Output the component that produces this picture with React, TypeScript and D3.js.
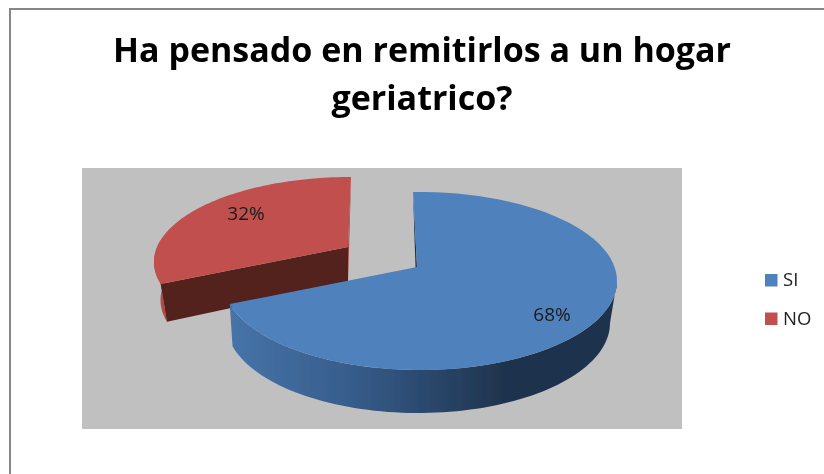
import React from "react";
import * as d3 from "d3";

const categories = ["SI", "NO"];
const values = [68, 32];
const labels = ["68%", "32%"];
const colors = ["#4f81bd", "#c0504d"];
const titleLines = ["Ha pensado en remitirlos a un hogar", "geriatrico?"];

const W = 824, H = 474;
const D2R = Math.PI / 180;

// 3D perspective: pie angle (deg) -> drawn ellipse angle (deg)
const warp = d3.scaleLinear().domain([0, 244.8, 360]).range([-2, 255, 360]);

type Ell = { cx: number; cy: number; rx: number; ry: number };
type Geo = { top: Ell; bottom: Ell; apex: [number, number]; apexB: [number, number] };

const geos: Geo[] = [
  { top: { cx: 420, cy: 281, rx: 197, ry: 89 }, bottom: { cx: 418, cy: 323, rx: 192, ry: 90 }, apex: [417, 267], apexB: [417, 309] },
  { top: { cx: 351, cy: 262, rx: 197, ry: 85 }, bottom: { cx: 350, cy: 300, rx: 189.5, ry: 84 }, apex: [348, 247], apexB: [348, 283] },
];
const blueCutSkew = 0.9;

const pt = (e: Ell, deg: number): [number, number] => [
  e.cx + e.rx * Math.sin(deg * D2R),
  e.cy - e.ry * Math.cos(deg * D2R),
];
const arc = (e: Ell, a: number, b: number, n = 80): [number, number][] =>
  d3.range(n + 1).map((i) => pt(e, a + ((b - a) * i) / n));
const line = d3.line<[number, number]>();
const closed = (p: [number, number][]) => (line(p) || "") + "Z";

export default function App() {
  const slices = d3.pie<number>().sort(null).startAngle(0).endAngle(2 * Math.PI)(values);
  const angs = slices.map((s) => [warp((s.startAngle * 180) / Math.PI), warp((s.endAngle * 180) / Math.PI)]);

  const faces = (i: number, skew = 0) => {
    const g = geos[i];
    const [a, b] = angs[i];
    return {
      top: closed([g.apex, ...arc(g.top, a, b)]),
      wall: closed([...arc(g.top, Math.max(a, 90), Math.min(b, 270)), ...arc(g.bottom, Math.min(b, 270), Math.max(a, 90))]),
      cutStart: closed([g.apex, pt(g.top, a), pt(g.bottom, a + skew), g.apexB]),
      cutEnd: closed([g.apex, pt(g.top, b), pt(g.bottom, b), g.apexB]),
    };
  };
  const blue = faces(0, blueCutSkew);
  const red = faces(1);

  const redWallPath = closed([
    ...arc(geos[1].top, angs[1][0], 285, 30),
    ...arc(geos[1].bottom, 285, angs[1][0], 30),
  ]);

  return (
    <svg width={W} height={H} style={{ position: "absolute", left: 0, top: 0 }} xmlns="http://www.w3.org/2000/svg">
      <defs>
        <linearGradient id="blueWall" gradientUnits="userSpaceOnUse" x1="231" x2="505" y1="0" y2="0">
          <stop offset="0" stopColor="#4674a9" />
          <stop offset="0.45" stopColor="#365c8a" />
          <stop offset="1" stopColor="#1f334d" />
        </linearGradient>
        <filter id="soft" x="-5%" y="-5%" width="110%" height="110%">
          <feGaussianBlur stdDeviation="0.55" />
        </filter>
      </defs>
      <rect width={W} height={H} fill="#ffffff" />
      <g filter="url(#soft)">
        <path d={`M10,${H + 10} V9 H${W + 10}`} fill="none" stroke="#868686" strokeWidth={2} />
        {titleLines.map((t, i) => (
          <text key={t} x={422} y={62 + i * 48} textAnchor="middle" fontFamily="'Open Sans', sans-serif"
            fontWeight={700} fontSize={34} fill="#000">{t}</text>
        ))}
        <rect x={82} y={168} width={600} height={261} fill="#c0c0c0" />

        {/* NO slice (back) */}
        <path d={red.cutEnd} fill="#a8433f" />
        <path d={redWallPath} fill="#b34a47" />
        <path d={red.cutStart} fill="#53211f" />
        <path d={red.top} fill={colors[1]} />

        {/* SI slice (front) */}
        <path d={blue.cutStart} fill="#1b3350" />
        <path d={blue.wall} fill="url(#blueWall)" />
        <path d={blue.top} fill={colors[0]} />

        <text x={552} y={321} textAnchor="middle" fontFamily="'Open Sans', sans-serif" fontSize={19} fill="#1a1a1a">{labels[0]}</text>
        <text x={246} y={220} textAnchor="middle" fontFamily="'Open Sans', sans-serif" fontSize={19} fill="#1a1a1a">{labels[1]}</text>

        {categories.map((c, i) => (
          <g key={c}>
            <rect x={765} y={274 + i * 38.5} width={12.5} height={12.5} fill={colors[i]} />
            <text x={783} y={286 + i * 39} fontFamily="'Open Sans', sans-serif" fontSize={18.5} fill="#222">{c}</text>
          </g>
        ))}
      </g>
    </svg>
  );
}
